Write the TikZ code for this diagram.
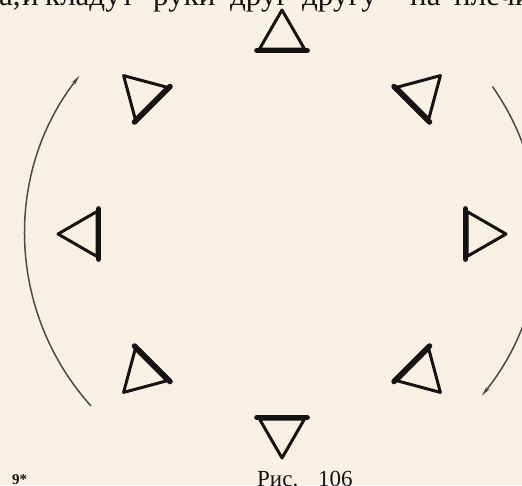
\documentclass[tikz,border=0pt]{standalone}
\usepackage{fontspec}
\setmainfont{Liberation Serif}
\usepackage{tikz}
\usetikzlibrary{arrows.meta,shapes.geometric,calc}
\definecolor{paper}{HTML}{F7F1E5}
\definecolor{ink}{HTML}{141414}
\definecolor{arcGrey}{HTML}{4A4A4A}

\begin{document}
\begin{tikzpicture}[
  x=1pt,y=1pt,
  tri/.style={regular polygon,regular polygon sides=3,minimum size=52pt,inner sep=0pt,draw=ink,line width=3pt,line join=round},
  base/.style={draw=ink,line width=5.5pt,line cap=round},
  turn/.style={-{Stealth[length=10pt,width=4pt]},draw=arcGrey,line width=1.5pt},
  txt/.style={text=ink,inner sep=0pt}
]
\useasboundingbox (0,0) rectangle (522,-485);
\fill[paper] (0,0) rectangle (522,-485);
\clip (0,0) rectangle (522,-485);
\coordinate (c) at (282,-234);
\node[txt,anchor=base west,font=\fontsize{31}{31}\selectfont] (prev) at (-15,-5)
  {\makebox[37pt][l]{та,}\makebox[23pt][l]{и}\makebox[108pt][l]{кладут}\makebox[77pt][l]{руки}\makebox[72pt][l]{друг}\makebox[108pt][l]{другу}\makebox[44pt][l]{на}плечи};
\foreach \a/\nm in {90/n,45/ne,0/e,-45/se,-90/s,-135/sw,180/w,135/nw}{
  \node[tri,rotate=\a-90] (\nm) at ($(c)+(\a:198)$) {};
  \draw[base] (\nm.corner 2) -- (\nm.corner 3);
}
\coordinate (leftS) at ($(c)+(222:257)$);
\coordinate (rightS) at ($(c)+(35:257)$);
\draw[turn] (leftS) arc[start angle=222,end angle=142,radius=257];
\draw[turn] (rightS) arc[start angle=35,end angle=-39,radius=257];
\node[txt,anchor=base west,font=\fontsize{23}{23}\selectfont] (fig) at (257,-486) {\makebox[61pt][l]{Рис.}106};
\node[txt,anchor=base west,font=\fontsize{15}{15}\selectfont\bfseries] (page) at (12,-484) {9*};
\end{tikzpicture}
\end{document}
